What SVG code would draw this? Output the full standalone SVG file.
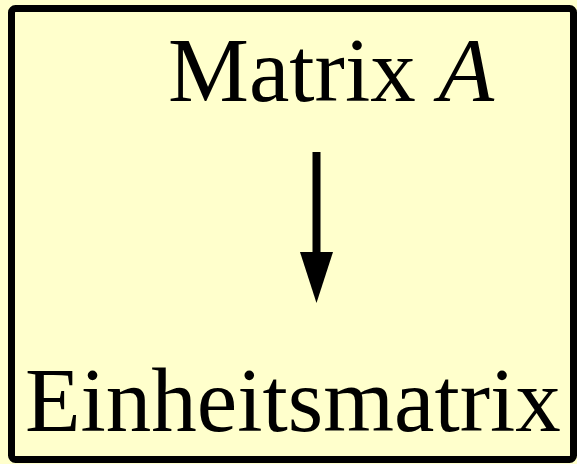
<svg xmlns="http://www.w3.org/2000/svg" width="577" height="464" viewBox="0 0 577 464">
<style>
.t{font-family:"Liberation Serif","Times New Roman",serif;font-size:91px;fill:#000}
.edge{stroke:#000;stroke-width:8}
.head{fill:#000}
</style>
<rect x="0" y="0" width="577" height="464" fill="#FFFFCC"/>
<g id="frame">
<rect x="11.5" y="8.5" width="562" height="451" rx="4" fill="#FFFFCC" stroke="#000" stroke-width="7"/>
</g>
<g id="matrixA">
<text class="t" x="168" y="101">Matrix <tspan font-style="italic">A</tspan></text>
</g>
<g id="einheitsmatrix">
<text class="t" x="25" y="431">Einheitsmatrix</text>
</g>
<g id="connectors">
<line class="edge" x1="316.5" y1="152" x2="316.5" y2="253"/>
<path class="head" d="M300,252 L333,252 L316.5,303 Z"/>
</g>
</svg>
